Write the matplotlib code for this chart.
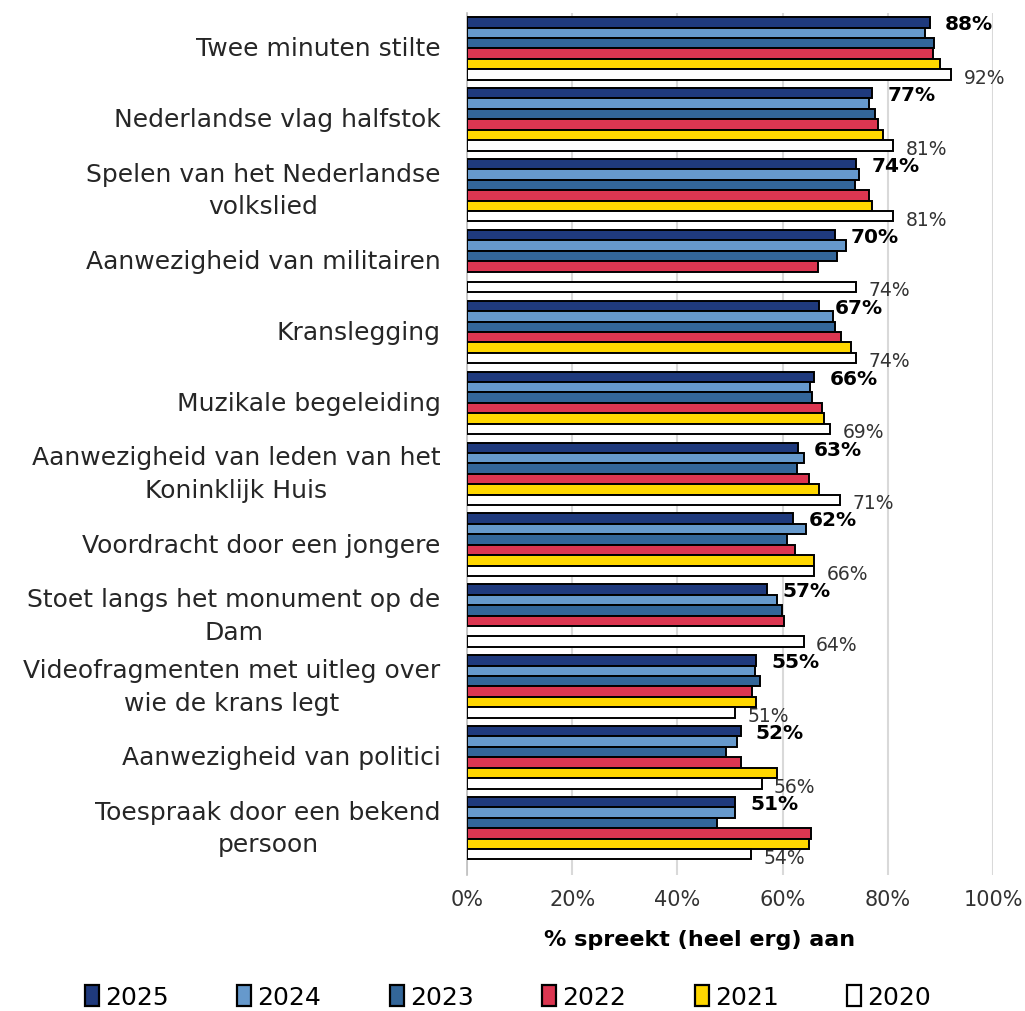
import numpy as np
import matplotlib
matplotlib.use("Agg")
import matplotlib.pyplot as plt
from matplotlib.patches import Patch

plt.rcParams['font.family'] = ['DejaVu Sans']

categories = [
    "Twee minuten stilte",
    "Nederlandse vlag halfstok",
    "Spelen van het Nederlandse\nvolkslied",
    "Aanwezigheid van militairen",
    "Kranslegging",
    "Muzikale begeleiding",
    "Aanwezigheid van leden van het\nKoninklijk Huis",
    "Voordracht door een jongere",
    "Stoet langs het monument op de\nDam",
    "Videofragmenten met uitleg over\nwie de krans legt",
    "Aanwezigheid van politici",
    "Toespraak door een bekend\npersoon",
]

years = ["2025", "2024", "2023", "2022", "2021", "2020"]

v2025 = [88, 77, 74, 70, 67, 66, 63, 62, 57, 55, 52, 51]
v2024 = [87.1, 76.5, 74.6, 72.1, 69.5, 65.3, 64.1, 64.4, 59.0, 54.8, 51.3, 50.9]
v2023 = [88.7, 77.5, 73.8, 70.4, 70.0, 65.5, 62.8, 60.8, 59.8, 55.7, 49.2, 47.6]
v2022 = [88.5, 78.1, 76.4, 66.7, 71.1, 67.5, 65.0, 62.4, 60.3, 54.1, 52.1, 65.4]
v2021 = [89.9, 79.0, 77.0, np.nan, 73.0, 67.9, 67.0, 66.0, np.nan, 55.0, 58.9, 65.0]
v2020 = [92, 81, 81, 74, 74, 69, 71, 66, 64, 51, 56, 54]

series = [v2025, v2024, v2023, v2022, v2021, v2020]
colors = ["#1F3A7D", "#6699CC", "#336699", "#DC3651", "#FFD700", "#FFFFFF"]

fig = plt.figure(figsize=(10.25, 10.12), dpi=100)
ax = fig.add_axes([467 / 1025, 1 - 876 / 1012, 526 / 1025, 862 / 1012])

n = len(years)
h = 0.147
y = np.arange(len(categories))

for j, (vals, col) in enumerate(zip(series, colors)):
    pos = y - (n - 1) / 2 * h + j * h
    ax.barh(pos, vals, height=h, color=col, edgecolor="black", linewidth=1.4, zorder=3)
    if j == 0:
        for p, v in zip(pos, vals):
            ax.annotate(f"{v:.0f}%", (v, p), xytext=(11, -1), textcoords="offset points",
                        ha="left", va="center", fontsize=14.5, fontweight="bold", color="black")
    if j == n - 1:
        for p, v in zip(pos, vals):
            ax.annotate(f"{v:.0f}%", (v, p), xytext=(9, -2), textcoords="offset points",
                        ha="left", va="center", fontsize=13.5, color="#333333")

ax.set_xlim(0, 100)
ax.set_ylim(11.66, -0.5)
ax.set_xticks(np.arange(0, 101, 20))
ax.set_xticklabels([f"{t}%" for t in range(0, 101, 20)], fontsize=15, color="#333333")
ax.set_yticks(y)
ax.set_yticklabels(categories, fontsize=18, color="#262626", multialignment="center",
                   linespacing=1.45, va="center")
ax.tick_params(axis="both", length=0)
ax.tick_params(axis="x", pad=10)
ax.tick_params(axis="y", pad=19)
ax.grid(axis="x", color="#D9D9D9", linewidth=1.5, zorder=0)
for s in ["top", "right", "bottom"]:
    ax.spines[s].set_visible(False)
ax.spines["left"].set_color("#BFBFBF")
ax.spines["left"].set_linewidth(1.2)

fig.text(700 / 1025, 1 - 940 / 1012, "% spreekt (heel erg) aan", ha="center", va="center",
         fontsize=16, fontweight="bold", color="black")

handles = [Patch(facecolor=c, edgecolor="black", linewidth=1.6) for c in colors]
fig.legend(handles, years, loc="center", bbox_to_anchor=(508 / 1025, 1 - 998 / 1012), ncol=6,
           frameon=False, fontsize=18, handlelength=0.55, handleheight=0.9,
           handletextpad=0.25, columnspacing=2.75)

fig.savefig("out.png", dpi=100)
